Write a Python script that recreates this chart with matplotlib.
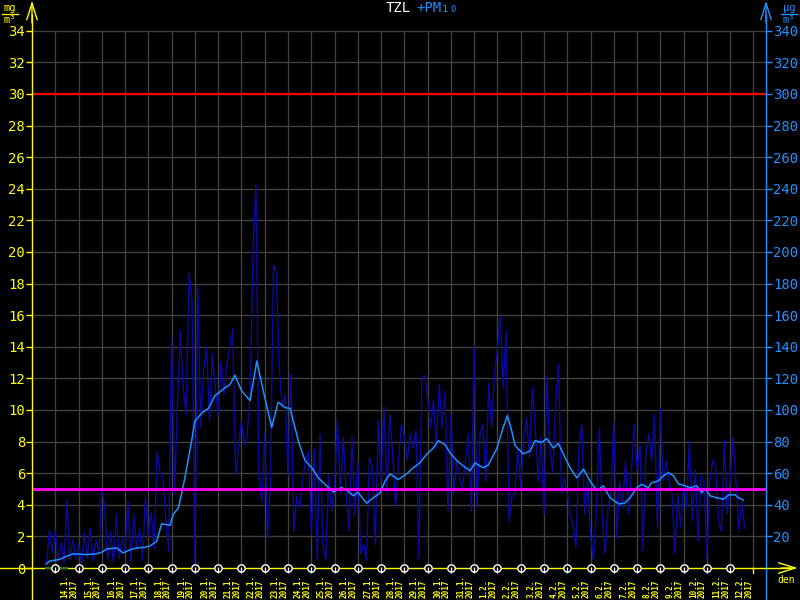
import numpy as np
import pandas as pd
import matplotlib
matplotlib.use('Agg')
import matplotlib.pyplot as plt
from matplotlib.lines import Line2D

plt.rcParams['font.family'] = ['DejaVu Sans Mono', 'DejaVu Sans']

YELLOW = '#ffff00'
BLUE = '#1e90ff'
RAW_BLUE = '#0a0aa0'
GRID = '#404040'

t0 = pd.Timestamp('2017-01-13')

# raw TZL readings [mg/m3], every 3 hours from 13.1. 15:00
raw_start = '2017-01-13 15:00'
raw_vals = [
    0.3, 2.4, 1.0,
    2.4, 0.4, 1.6, 0.3, 4.3, 0.5, 1.8, 0.6,
    1.5, 0.3, 2.2, 0.6, 2.5, 0.4, 1.8, 1.0,
    5.1, 3.8, 0.5, 2.3, 0.3, 3.4, 0.6, 1.9,
    1.0, 4.2, 0.4, 3.4, 1.2, 2.5, 0.5, 4.5,
    2.0, 3.5, 1.2, 7.4, 6.0, 5.7, 3.0, 1.1,
    14.6, 4.7, 10.4, 15.0, 11.4, 9.7, 18.7, 16.9,
    0.1, 17.9, 8.9, 12.5, 14.0, 9.3, 13.6, 11.4,
    9.7, 13.1, 11.0, 12.9, 14.0, 15.1, 5.9, 7.6,
    9.3, 7.8, 8.5, 11.0, 20.3, 24.3, 5.9, 4.2,
    8.5, 1.9, 5.5, 19.2, 18.6, 12.7, 10.2, 11.0,
    5.9, 12.3, 2.3, 4.5, 3.8, 5.5, 6.8, 7.4,
    2.1, 7.6, 0.5, 8.5, 1.5, 0.5, 5.9, 3.6,
    5.3, 9.4, 4.7, 8.3, 4.7, 2.3, 8.3, 3.4,
    6.8, 0.9, 1.5, 0.5, 7.0, 6.4, 1.5, 9.3,
    5.5, 10.2, 4.7, 9.7, 7.2, 3.8, 6.8, 9.1,
    8.3, 6.8, 8.5, 7.6, 8.7, 0.6, 11.9, 12.2,
    10.8, 8.9, 10.6, 7.6, 11.6, 8.9, 11.2, 3.6,
    9.7, 4.7, 6.8, 5.7, 5.1, 6.8, 8.5, 3.6,
    14.0, 3.8, 8.5, 9.1, 5.5, 11.7, 8.9, 12.3,
    13.8, 15.9, 11.4, 15.0, 2.9, 4.5, 4.7, 7.6,
    5.1, 8.1, 9.5, 7.0, 11.4, 8.9, 5.5, 8.3,
    3.4, 12.1, 7.6, 6.0, 10.4, 12.9, 4.7, 5.7,
    4.7, 3.4, 2.7, 1.3, 7.6, 9.1, 3.4, 5.5,
    2.1, 0.5, 3.6, 8.9, 3.2, 0.9, 3.8, 4.7,
    9.3, 1.9, 5.5, 3.8, 6.8, 3.4, 5.9, 9.1,
    6.2, 7.8, 1.1, 7.2, 8.5, 6.8, 9.7, 2.5,
    10.1, 5.5, 6.8, 5.5, 4.7, 0.9, 4.7, 2.6,
    5.3, 3.8, 8.1, 3.0, 6.2, 1.7, 5.9, 5.5,
    0.6, 5.5, 6.8, 6.4, 3.0, 2.3, 8.1, 3.4,
    5.5, 8.3, 5.3, 2.4, 4.2, 2.5,
]

# running average, time in days since 13.1. 00:00
smooth_t = [0.60, 0.77, 1.20, 1.49, 1.78, 2.30, 2.78, 3.00, 3.21, 3.64, 3.92, 4.20,
            4.50, 4.80, 5.07, 5.36, 5.57, 5.93, 6.07, 6.29, 6.43, 6.58, 6.86, 7.00,
            7.29, 7.58, 7.86, 8.29, 8.50, 8.72, 9.01, 9.37, 9.66, 9.94, 10.30, 10.58,
            10.87, 11.09, 11.44, 11.73, 12.02, 12.30, 12.59, 12.95, 13.30, 13.55, 13.81, 14.00,
            14.38, 14.67, 14.96, 15.17, 15.38, 15.74, 16.10, 16.39, 16.67, 16.96, 17.25, 17.46,
            17.75, 17.96, 18.25, 18.53, 18.82, 19.04, 19.20, 19.39, 19.60, 19.97, 20.25, 20.43,
            20.61, 20.76, 21.11, 21.40, 21.62, 21.90, 22.12, 22.40, 22.62, 22.90, 23.12, 23.41,
            23.70, 23.98, 24.27, 24.55, 24.84, 25.20, 25.45, 25.70, 25.99, 26.20, 26.48, 26.63,
            26.90, 27.13, 27.35, 27.56, 27.77, 28.06, 28.28, 28.56, 28.78, 28.93, 29.14, 29.43,
            29.72, 29.93, 30.21, 30.36, 30.57]
smooth_vals = [0.25, 0.44, 0.55, 0.75, 0.90, 0.85, 0.90, 1.00, 1.20, 1.27, 0.95, 1.15,
               1.27, 1.30, 1.40, 1.70, 2.80, 2.70, 3.40, 3.80, 4.70, 5.80, 8.06, 9.30,
               9.80, 10.10, 10.90, 11.40, 11.60, 12.20, 11.20, 10.60, 13.10, 11.20, 8.90, 10.50,
               10.15, 10.10, 8.06, 6.80, 6.35, 5.70, 5.30, 4.80, 5.10, 4.90, 4.57, 4.80,
               4.10, 4.45, 4.75, 5.50, 5.96, 5.60, 5.96, 6.35, 6.66, 7.20, 7.60, 8.06,
               7.80, 7.30, 6.80, 6.47, 6.15, 6.66, 6.50, 6.35, 6.50, 7.55, 8.90, 9.64,
               8.70, 7.74, 7.23, 7.40, 8.06, 7.94, 8.20, 7.60, 7.87, 7.00, 6.35, 5.70,
               6.26, 5.50, 4.90, 5.20, 4.44, 4.06, 4.10, 4.44, 5.08, 5.30, 5.08, 5.40,
               5.50, 5.84, 6.03, 5.84, 5.33, 5.20, 5.08, 5.20, 4.76, 5.00, 4.57, 4.44,
               4.35, 4.63, 4.63, 4.44, 4.30]

limit_red = 30
limit_pm10 = 5
left_ticks = np.arange(0, 35, 2)
right_ticks = np.arange(20, 341, 20)
label_days = pd.date_range('2017-01-14', '2017-02-12', freq='D')

raw_t = pd.date_range(raw_start, periods=len(raw_vals), freq='3h')
raw_x = (raw_t - t0) / pd.Timedelta(days=1)
label_x = (label_days - t0) / pd.Timedelta(days=1)

xmax = 31.54
ymax = 35.6

fig = plt.figure(figsize=(8, 6), dpi=100, facecolor='black')
ax = fig.add_axes([32 / 800, 32 / 600, 734 / 800, 0.9375])
ax.set_facecolor('black')
ax.set_xlim(0, xmax)
ax.set_ylim(0, ymax)
for s in ax.spines.values():
    s.set_visible(False)

# grid
ax.hlines(left_ticks[1:], 0, xmax, colors=GRID, lw=1, zorder=1)
ax.vlines(np.arange(1, 32), 0, 34, colors=GRID, lw=1, zorder=1)

# data
ax.plot(raw_x, raw_vals, color=RAW_BLUE, lw=1, zorder=2)
ax.plot(smooth_t, smooth_vals, color=BLUE, lw=1.1, zorder=3)
ax.axhline(limit_red, color='#ff0000', lw=1.6, zorder=4)
ax.axhline(limit_pm10, color='#ff00ff', lw=2, zorder=4)

# axes lines with arrows
ax.plot([0, 0], [-2.1, 35.0], color=YELLOW, lw=1, clip_on=False, zorder=6)
ax.plot([xmax, xmax], [-2.1, 35.0], color=BLUE, lw=1, clip_on=False, zorder=6)
ax.plot([-1.4, 32.6], [0, 0], color=YELLOW, lw=1, clip_on=False, zorder=6)
ax.plot([0.62, 1.5], [0, 0], color='#2f6f2f', lw=1.5, clip_on=False, zorder=6)
arrow = dict(arrowstyle='->,head_length=0.8,head_width=0.25', lw=1, shrinkA=0, shrinkB=0,
             mutation_scale=15)
ax.annotate('', xy=(0, 35.9), xytext=(0, 34.5), annotation_clip=False,
            arrowprops=dict(arrow, color=YELLOW))
ax.annotate('', xy=(xmax, 35.9), xytext=(xmax, 34.5), annotation_clip=False,
            arrowprops=dict(arrow, color=BLUE))
ax.annotate('', xy=(32.9, 0), xytext=(32.2, 0), annotation_clip=False,
            arrowprops=dict(arrow, color=YELLOW))
ax.text(32.4, -0.45, 'den', color=YELLOW, fontsize=7, ha='center', va='top', clip_on=False)

# day markers and labels
ax.scatter(np.arange(1, 31), np.zeros(30), s=28, facecolors='black', edgecolors='white',
           linewidths=1, zorder=7, clip_on=False)
ax.scatter(np.arange(1, 31), np.full(30, -0.12), s=14, marker='|', color='white',
           linewidths=1, zorder=8, clip_on=False)
ax.plot([31, 31], [0, -0.3], color=YELLOW, lw=1, clip_on=False, zorder=6)
for d, x in zip(label_days, label_x):
    ax.text(x + 0.62, -1.9, f'{d.day}.{d.month}.\n{d.year}', rotation=90, ha='center',
            va='bottom', multialignment='left', color=YELLOW, fontsize=5.5,
            fontweight='bold', linespacing=1.0, clip_on=False)

ax.set_xticks([])
ax.set_yticks(left_ticks)
ax.tick_params(axis='y', colors=YELLOW, length=4, width=1, direction='out', pad=1,
               labelsize=10)

ax2 = ax.twinx()
ax2.set_ylim(0, ymax * 10)
for s in ax2.spines.values():
    s.set_visible(False)
ax2.set_yticks(right_ticks)
ax2.tick_params(axis='y', colors=BLUE, length=4, width=1, direction='out', pad=1,
                labelsize=10)

# title and units
fig.text(0.514, 0.987, 'TZL', color='white', fontsize=10, ha='right', va='center')
fig.text(0.521, 0.987, '+PM₁₀', color=BLUE, fontsize=10, ha='left', va='center')
for xc, col, top in [(10, YELLOW, 'mg'), (789, BLUE, 'µg')]:
    fig.text(xc / 800, 1 - 8 / 600, top, color=col, fontsize=7.5, ha='center', va='center')
    fig.text(xc / 800, 1 - 20 / 600, 'm³', color=col, fontsize=7.5, ha='center', va='center')
    fig.add_artist(Line2D([(xc - 8) / 800, (xc + 8) / 800], [1 - 13.5 / 600, 1 - 13.5 / 600],
                          color=col, lw=1))

fig.savefig('out.png', dpi=100, facecolor='black')
